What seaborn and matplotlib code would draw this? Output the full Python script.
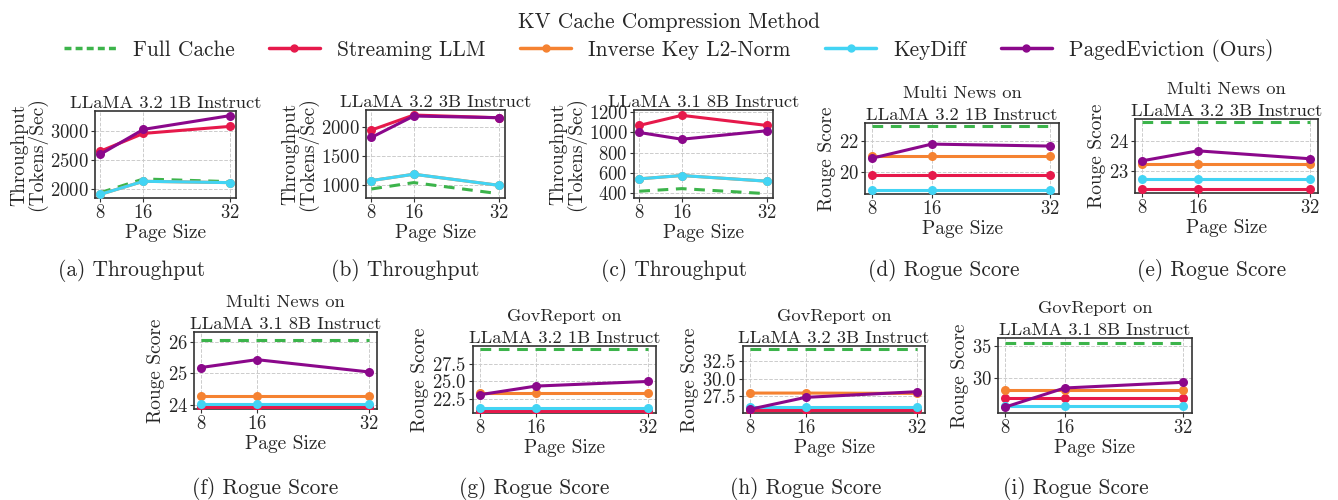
import numpy as np
import pandas as pd
import matplotlib
matplotlib.use("Agg")
import matplotlib.pyplot as plt
from matplotlib.lines import Line2D
import seaborn as sns

page_sizes = [8, 16, 32]
methods = ["Full Cache", "Streaming LLM", "Inverse Key L2-Norm", "KeyDiff", "PagedEviction (Ours)"]
colors = ["#3cb44b", "#e6194b", "#f58231", "#42d4f4", "#8b088b"]

# values per panel, in the method order above
tp_1b = [[1943, 2178, 2132], [2655, 2960, 3080], [1914, 2138, 2115], [1914, 2138, 2115], [2603, 3029, 3264]]
tp_3b = [[937, 1046, 857], [1943, 2200, 2154], [1080, 1189, 1000], [1080, 1189, 1000], [1817, 2183, 2154]]
tp_8b = [[417, 443, 393], [1070, 1170, 1070], [540, 573, 517], [540, 573, 517], [1000, 933, 1017]]
mn_1b = [[23.0] * 3, [19.8] * 3, [21.02] * 3, [18.76] * 3, [20.89, 21.82, 21.69]]
mn_3b = [[24.61] * 3, [22.40] * 3, [23.22] * 3, [22.73] * 3, [23.34, 23.67, 23.41]]
mn_8b = [[26.08] * 3, [23.93] * 3, [24.29] * 3, [24.02] * 3, [25.19, 25.44, 25.05]]
gr_1b = [[29.71] * 3, [20.77] * 3, [23.27] * 3, [21.15] * 3, [23.08, 24.33, 25.0]]
gr_3b = [[34.18] * 3, [25.58] * 3, [27.97, 27.97, 27.92], [26.05] * 3, [25.68, 27.36, 28.16]]
gr_8b = [[35.53] * 3, [26.84] * 3, [28.16] * 3, [25.63] * 3, [25.42, 28.42, 29.32]]

titles = ["LLaMA 3.2 1B Instruct", "LLaMA 3.2 3B Instruct", "LLaMA 3.1 8B Instruct",
          "Multi News on\nLLaMA 3.2 1B Instruct", "Multi News on\nLLaMA 3.2 3B Instruct",
          "Multi News on\nLLaMA 3.1 8B Instruct", "GovReport on\nLLaMA 3.2 1B Instruct",
          "GovReport on\nLLaMA 3.2 3B Instruct", "GovReport on\nLLaMA 3.1 8B Instruct"]
captions = ["(a) Throughput", "(b) Throughput", "(c) Throughput", "(d) Rogue Score", "(e) Rogue Score",
            "(f) Rogue Score", "(g) Rogue Score", "(h) Rogue Score", "(i) Rogue Score"]
panel_data = [tp_1b, tp_3b, tp_8b, mn_1b, mn_3b, mn_8b, gr_1b, gr_3b, gr_8b]
ylims = [(1851, 3345), (783, 2286), (350, 1223), (18.51, 23.22), (22.28, 24.72),
         (23.87, 26.32), (20.43, 30.14), (25.16, 34.6), (24.47, 36.32)]
yticks = [[2000, 2500, 3000], [1000, 1500, 2000], [400, 600, 800, 1000, 1200], [20, 22], [23, 24],
          [24, 25, 26], [22.5, 25.0, 27.5], [27.5, 30.0, 32.5], [30, 35]]

# axes boxes in pixels: left, top, right, bottom
boxes = [(95, 111, 236, 198), (366, 110, 505, 198), (634, 110, 773, 198),
         (865, 123, 1059, 194), (1135, 119, 1318, 193),
         (194, 332, 377, 409), (473, 346, 656, 413), (743, 346, 925, 413), (998, 338, 1192, 413)]
cap_pos = [(132, 270), (405, 270), (674, 270), (944, 270), (1212, 270),
           (265, 488), (534, 488), (806, 488), (1076, 488)]

sns.set_style("whitegrid", {"grid.linestyle": "--", "axes.edgecolor": "#333333",
                            "xtick.bottom": True, "ytick.left": True})
plt.rcParams["font.family"] = ["cmr10", "DejaVu Serif"]
plt.rcParams["axes.formatter.use_mathtext"] = True
plt.rcParams["mathtext.fontset"] = "cm"

W, H = 1338, 500
fig = plt.figure(figsize=(W / 100, H / 100), dpi=100)

for i, data in enumerate(panel_data):
    l, t, r, b = boxes[i]
    ax = fig.add_axes([l / W, 1 - b / H, (r - l) / W, (b - t) / H])
    for m, vals, c in zip(methods, data, colors):
        df = pd.DataFrame({"page": page_sizes, "val": vals})
        if m == "Full Cache":
            sns.lineplot(data=df, x="page", y="val", ax=ax, color=c, linewidth=2.2,
                         linestyle=(0, (3.5, 2.5)), zorder=3)
        else:
            sns.lineplot(data=df, x="page", y="val", ax=ax, color=c, linewidth=2.2,
                         marker="o", markersize=6.5, markeredgewidth=0, zorder=3)
    ax.set_xticks(page_sizes)
    ax.set_xlim(7.0, 33.2)
    ax.set_ylim(*ylims[i])
    ax.set_yticks(yticks[i])
    if i < 3:
        ax.set_ylabel("Throughput\n(Tokens/Sec)", fontsize=14, linespacing=0.95, labelpad=2)
    else:
        ax.set_ylabel("Rouge Score", fontsize=14, labelpad=2)
    ax.set_xlabel("Page Size", fontsize=14, labelpad=1)
    ax.set_title(titles[i], fontsize=13.3, pad=2, linespacing=1.55)
    ax.tick_params(labelsize=13.5, pad=1.5, length=3, width=0.8, color="#333333")
    ax.grid(True, color="#cccccc", linewidth=0.7, linestyle="--")
    for s in ax.spines.values():
        s.set_linewidth(1.2)
        s.set_color("#333333")
    fig.text(cap_pos[i][0] / W, 1 - cap_pos[i][1] / H, captions[i], fontsize=15.4,
             ha="center", va="center")

handles = []
for m, c in zip(methods, colors):
    if m == "Full Cache":
        handles.append(Line2D([], [], color=c, linewidth=2.5, linestyle=(0, (2, 1.2))))
    else:
        handles.append(Line2D([], [], color=c, linewidth=2.5, marker="o", markersize=5))
fig.legend(handles, methods, loc="upper center", bbox_to_anchor=(0.5, 1.0), ncol=5, frameon=False,
           title="KV Cache Compression Method", fontsize=15.4, title_fontsize=15.4,
           handlelength=2.4, columnspacing=1.6, handletextpad=0.8, borderaxespad=0.2,
           labelspacing=0.3)

fig.savefig("out.png", dpi=100)
